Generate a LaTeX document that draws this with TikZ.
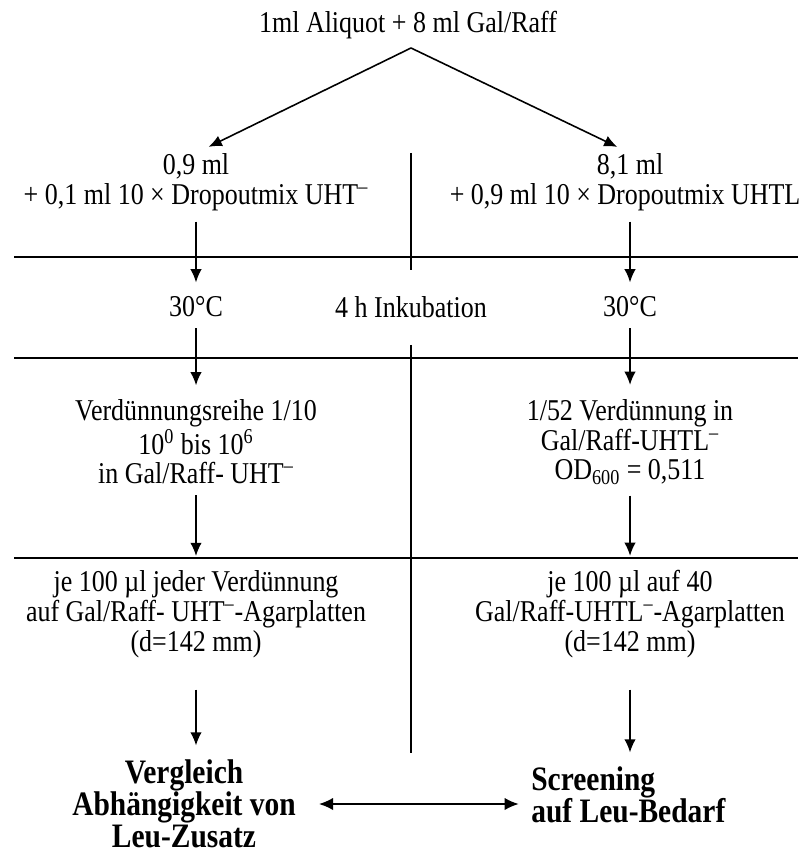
\documentclass[tikz,border=0pt]{standalone}
\usepackage{fontspec}
\setmainfont{Liberation Serif}[FakeStretch=0.86]
\usetikzlibrary{arrows.meta, positioning}

\tikzset{
  txt/.style={inner sep=0pt, align=center, font=\fontsize{17.2}{17}\selectfont},
  res/.style={inner sep=0pt, font=\bfseries\fontsize{19.5}{18.2}\selectfont},
  flow/.style={-{Latex[length=7.5pt,width=6.5pt]}, line width=0.9pt, shorten <=6pt, shorten >=8pt},
  sep/.style={line width=1.1pt},
}

\begin{document}
\begin{tikzpicture}[x=0.02cm, y=-0.02cm]
    \useasboundingbox (0,0) rectangle (798,854);

    \node[txt] (top) at (408,25) {1ml Aliquot + 8 ml Gal/Raff};
    \coordinate (apex) at (411,48);

    % left column
    \node[txt] (l1) at (196,182) {0,9 ml\\+ 0,1 ml 10 × Dropoutmix UHT\textsuperscript{–}};
    \node[txt] (l2) at (196,307) {30°C};
    \node[txt] (l3) at (196,442) {Verdünnungsreihe 1/10\\10\textsuperscript{0} bis 10\textsuperscript{6}\\in Gal/Raff- UHT\textsuperscript{–}};
    \node[txt] (l4) at (196,614) {je 100 µl jeder Verdünnung\\auf Gal/Raff- UHT\textsuperscript{–}-Agarplatten\\(d=142 mm)};
    \node[res, align=center] (l5) at (184,804) {Vergleich\\Abhängigkeit von\\Leu-Zusatz};

    % right column
    \node[txt] (r1) at (630,182) {8,1 ml\\+ 0,9 ml 10 × Dropoutmix UHTL\textsuperscript{–}};
    \node[txt] (r2) at (630,307) {30°C};
    \node[txt] (r3) at (630,442) {1/52 Verdünnung in\\Gal/Raff-UHTL\textsuperscript{–}\\OD\textsubscript{600} = 0,511};
    \node[txt] (r4) at (630,614) {je 100 µl auf 40\\Gal/Raff-UHTL\textsuperscript{–}-Agarplatten\\(d=142 mm)};
    \node[res, align=left, anchor=west] (r5) at (531,795) {Screening\\auf Leu-Bedarf};

    \node[txt] (inkub) at (411,307) {4 h Inkubation};

    % dividers
    \draw[sep] (14,257) -- (798,257);
    \draw[sep] (14,358) -- (798,358);
    \draw[sep] (14,558) -- (798,558);
    \draw[line width=0.9pt] (411,153) -- (411,270);
    \draw[line width=0.9pt] (411,345) -- (411,753);

    \path[flow]
    (apex) edge[shorten <=0pt] (l1.north)
    (apex) edge[shorten <=0pt] (r1.north)
    (l1) edge (l2) (l2) edge (l3) (l3) edge (l4)
    (r1) edge (r2) (r2) edge (r3) (r3) edge (r4)
    (l4.south) edge[shorten <=18pt] (l4.south |- l5.north)
    (r4.south) edge[shorten <=18pt] (r4.south |- r5.north);

    \draw[{Latex[length=8pt,width=7pt]}-{Latex[length=8pt,width=7pt]}, line width=0.9pt, shorten <=13pt, shorten >=7pt]
    (l5.east) -- (l5.east -| r5.west);

\end{tikzpicture}
\end{document}
